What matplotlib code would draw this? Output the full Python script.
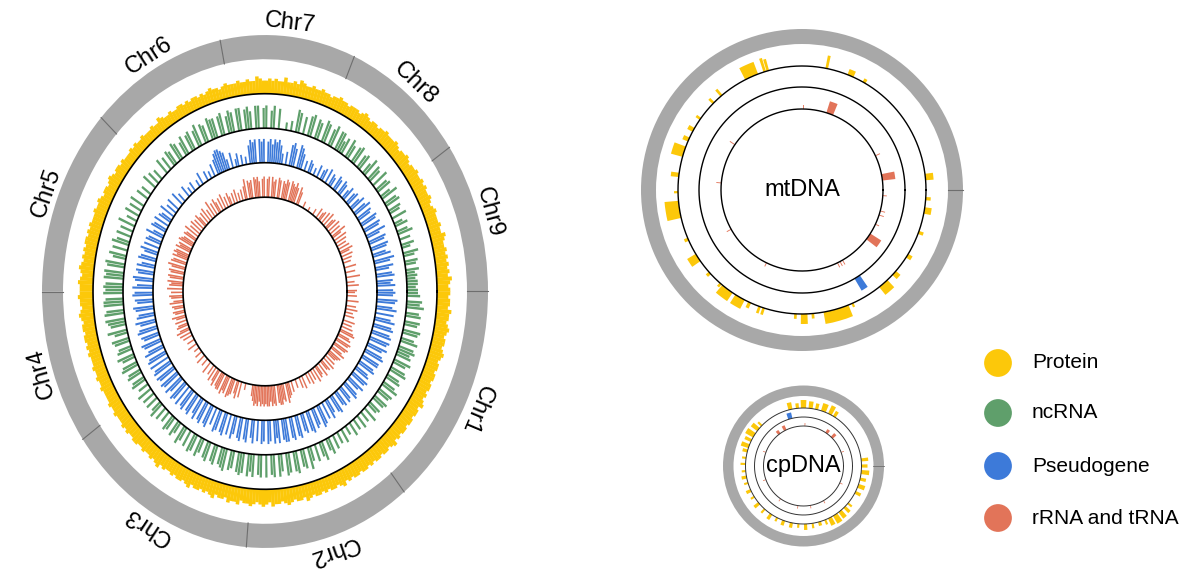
import numpy as np
import matplotlib.pyplot as plt

plt.rcParams['font.family'] = ['Liberation Sans', 'DejaVu Sans']

C_PROT = '#FCC80A'
C_NC = '#5F9F6B'
C_PSEUDO = '#3D7AD9'
C_RNA = '#E27459'
C_RING = '#A8A8A8'
C_SEP = '#6E6E6E'

# nuclear genome: chromosome sizes in degrees, clockwise from 3 o'clock
chroms = ['Chr1', 'Chr2', 'Chr3', 'Chr4', 'Chr5', 'Chr6', 'Chr7', 'Chr8', 'Chr9']
chrom_deg = [51.4, 43.4, 50.0, 35.2, 42.7, 35.7, 35.2, 32.2, 34.2]

# gene density per 1-degree bin (0-9), bin i = angle i..i+1 deg counter-clockwise from 3 o'clock
protein = [
    7,6,7,8,6,7,6,7,6,7, 6,7,6,6,7,8,6,6,7,6, 6,6,7,6,5,6,7,6,6,7, 6,7,6,6,7,6,6,5,6,7,
    6,6,5,6,7,6,6,6,7,6, 6,5,6,6,5,6,7,6,5,6, 6,6,5,6,6,7,6,6,5,6, 6,7,6,6,7,6,6,7,8,6,
    7,6,6,8,6,6,7,6,7,6, 6,7,8,6,6,7,6,6,7,6, 6,6,7,6,5,6,6,7,6,5, 6,5,6,6,5,6,5,6,6,5,
    5,6,5,5,6,7,5,5,6,5, 5,5,6,5,5,6,5,6,5,5, 5,6,5,6,6,5,6,7,6,5, 6,6,5,6,7,6,6,7,6,6,
    6,7,6,7,6,7,7,6,7,6, 7,6,7,8,7,6,7,8,7,7, 7,8,7,7,6,7,8,7,6,7, 7,6,7,7,6,7,6,7,6,6,
    6,7,6,6,7,6,6,7,6,6, 6,6,7,6,6,7,6,6,6,7, 6,7,6,6,7,7,6,6,7,6, 6,7,6,7,8,6,7,6,6,7,
    6,7,7,6,7,8,6,7,7,6, 7,6,7,8,6,7,7,6,8,7, 7,8,6,7,7,8,7,6,7,8, 7,6,8,7,7,6,7,8,7,6,
    7,7,6,8,7,6,7,7,6,7, 6,7,7,6,7,8,6,7,6,7, 7,6,7,7,6,7,6,7,7,6, 7,7,6,7,8,6,7,6,7,7,
    6,7,7,6,7,7,6,8,7,6, 7,6,7,7,6,7,7,6,7,7, 6,7,8,7,6,7,7,6,7,8, 7,6,7,7,8,6,7,7,6,7,
]
ncrna = [
    5,4,5,5,4,5,4,6,0,5, 6,0,5,7,0,4,6,0,5,0, 7,5,0,6,4,0,7,0,5,6, 0,7,6,0,8,5,0,7,6,0,
    8,0,6,7,0,8,5,0,7,6, 0,8,7,0,6,8,0,7,5,8, 8,0,9,7,0,8,9,0,7,8, 0,9,8,0,7,0,8,9,0,4,
    0,3,0,0,8,0,9,7,0,9, 8,0,9,9,0,7,9,8,0,9, 9,0,8,9,7,0,9,8,0,8, 8,9,0,7,8,0,9,7,0,8,
    7,0,8,6,0,7,8,0,6,7, 0,6,0,7,0,0,5,0,6,0, 7,0,0,5,0,6,0,0,7,0, 6,0,7,0,5,0,8,0,6,0,
    7,0,6,8,0,7,0,8,6,0, 9,8,0,9,8,9,0,8,9,8, 9,0,8,9,9,0,8,9,0,9, 8,7,0,9,6,0,8,7,0,6,
    7,0,8,6,0,7,8,0,6,7, 0,6,7,0,5,0,7,0,6,0, 6,0,5,7,0,6,0,5,0,7, 6,0,7,5,0,8,6,0,7,0,
    8,7,0,8,6,0,7,8,0,7, 8,0,7,8,9,0,8,7,0,8, 9,8,0,9,7,9,0,8,9,0, 9,0,8,9,0,9,7,0,9,8,
    0,8,9,0,7,8,0,9,6,0, 7,0,6,8,0,5,7,0,6,0, 5,0,6,0,4,0,6,0,5,0, 6,0,5,0,7,0,5,6,0,6,
    7,0,6,7,0,8,6,0,7,6, 0,8,7,0,6,8,0,7,6,8, 7,0,8,6,0,7,8,0,6,7, 0,7,6,0,8,6,7,0,6,5,
]
pseudo = [
    7,0,8,6,7,0,8,7,0,6, 8,0,7,9,0,8,6,0,7,8, 0,7,8,0,6,9,0,7,8,0, 7,8,0,6,7,0,8,6,0,7,
    5,0,6,5,0,6,4,0,5,6, 0,5,6,0,4,5,0,6,0,5, 4,0,5,0,3,0,4,5,0,4, 0,6,8,9,0,7,9,8,0,5,
    0,4,7,9,8,9,7,9,8,0, 9,8,9,0,9,8,9,7,0,3, 0,4,0,5,3,0,6,0,4,7, 8,9,9,8,6,0,5,0,3,0,
    4,0,0,5,0,3,0,0,4,0, 3,0,5,0,0,4,0,6,0,0, 6,0,5,0,7,0,5,6,0,7, 0,6,7,0,5,8,0,6,7,0,
    7,0,8,6,0,7,8,0,6,8, 0,8,7,0,9,8,0,7,9,0, 8,9,0,8,7,0,9,8,0,7, 8,0,9,7,0,8,9,0,8,7,
    0,9,8,0,7,9,0,8,9,0, 9,0,8,9,0,9,8,0,9,8, 0,9,7,0,9,8,0,9,0,8, 9,0,8,9,0,7,9,0,8,9,
    0,8,9,0,7,0,9,8,0,8, 9,0,8,0,9,7,0,8,9,0, 8,9,0,7,9,0,8,0,9,8, 0,9,8,0,9,7,9,0,8,9,
    9,0,8,9,0,8,9,0,7,8, 0,8,9,0,8,7,0,9,8,0, 7,0,8,6,0,7,8,0,6,7, 0,7,6,0,8,7,0,6,8,0,
    7,8,0,7,6,0,8,7,0,8, 8,0,9,8,0,7,9,0,8,9, 0,9,8,0,9,8,0,9,7,0, 8,0,9,7,0,8,9,0,7,8,
]
rrna = [
    5,0,0,6,0,4,0,0,7,0, 0,5,0,0,6,0,0,4,0,5, 0,6,0,5,7,0,6,0,5,0, 6,0,7,0,5,8,0,6,0,7,
    0,6,5,0,7,0,6,0,5,4, 0,5,0,0,3,0,0,0,2,0, 0,0,3,0,0,0,6,8,0,7, 9,7,8,9,0,8,9,7,8,0,
    8,9,0,8,7,9,0,9,8,0, 9,8,0,7,9,8,9,0,8,7, 8,0,9,6,0,5,0,4,0,6, 0,5,0,4,6,0,5,0,7,0,
    6,0,5,7,0,6,0,8,0,5, 0,7,0,6,0,5,7,0,6,0, 7,0,6,0,8,0,6,7,0,6, 7,8,0,7,6,8,0,7,8,6,
    8,0,7,8,0,9,7,0,8,7, 0,8,7,0,8,6,7,0,8,0, 6,0,7,6,0,5,7,0,6,5, 0,6,5,0,7,5,0,6,0,5,
    6,0,5,7,0,6,0,5,0,0, 4,0,0,5,0,0,3,0,0,4, 0,0,5,0,0,4,0,0,6,0, 0,5,0,7,0,6,8,0,7,8,
    8,0,9,7,8,0,9,8,7,0, 6,8,0,7,0,0,3,0,0,0, 0,5,7,9,8,9,7,9,8,9, 8,9,9,7,9,8,9,0,8,9,
    9,7,8,0,9,7,6,0,5,0, 0,4,0,0,5,0,6,0,0,5, 0,6,0,5,0,7,0,6,5,0, 7,0,5,6,0,7,0,6,0,5,
    6,7,0,8,6,0,7,8,0,7, 8,0,7,6,0,8,7,0,6,0, 5,0,6,0,0,5,0,4,0,6, 0,5,0,0,6,0,0,5,0,4,
]

# mitochondrial genome features: angle (deg), width (deg), height
mt_prot_ang = [6, 60, 67, 78.5, 106, 107.5, 114, 130.5, 135.5, 145,
               151, 156, 162, 173, 181, 189, 203.4, 213, 222, 229,
               233, 240, 245, 250, 252, 267, 271, 275, 286, 294,
               311, 318, 328, 340, 350.5, 356]
mt_prot_w = [3, 1.5, 3, 1.2, 1.2, 1.2, 6.5, 1.2, 1.2, 1.2,
             2, 2, 5, 2, 1, 8, 1.5, 4, 1.5, 1.2,
             6, 5, 1.5, 1.2, 1.2, 1.2, 3, 1.2, 12, 1,
             5, 2.5, 2, 1.5, 3, 1.5]
mt_prot_h = [8, 4, 6, 13, 12, 14, 13, 8, 6, 5,
             6, 6, 12, 8, 4, 14, 4, 10, 4, 4,
             10, 10, 6, 7, 7, 5, 10, 5, 12, 4,
             10, 6, 5, 5, 7, 5]
mt_pseudo_ang = [302.4]
mt_pseudo_w = [3.5]
mt_pseudo_h = [14]
mt_rna_ang = [70, 9, 325, 25, 89, 146, 175, 209, 244, 296, 298, 300, 335, 342, 345, 356]
mt_rna_w = [5, 4.6, 5, 0.6, 0.6, 0.6, 0.6, 0.6, 0.6, 0.6, 0.6, 0.6, 0.6, 0.6, 0.6, 0.6]
mt_rna_h = [12, 13, 13, 5, 4, 6, 5, 5, 4, 5, 5, 5, 4, 5, 5, 4]

# chloroplast genome features
cp_prot_ang = [0, 6, 58, 63, 70, 77, 83, 90, 96, 103,
               136, 141, 148, 154, 160, 165, 172, 178, 185, 191,
               197, 205, 212, 220, 228, 236, 243, 250, 258, 265,
               272, 279, 286, 292, 297, 303, 309, 315, 320, 333,
               340, 347, 354]
cp_prot_w = [3, 3, 3, 4, 5, 3, 4, 5, 3, 4,
             2, 4, 5, 3, 4, 3, 2, 2, 2, 3,
             2, 3, 2, 3, 2, 3, 2, 3, 3, 2,
             3, 2, 3, 2, 4, 5, 4, 3, 2, 3,
             4, 3, 4]
cp_prot_h = [6, 7, 6, 9, 8, 6, 7, 8, 5, 7,
             5, 8, 9, 7, 8, 5, 4, 5, 4, 5,
             4, 5, 4, 6, 5, 6, 4, 5, 5, 4,
             6, 5, 4, 5, 8, 9, 8, 7, 5, 6,
             7, 6, 8]
cp_pseudo_ang = [105.6]
cp_pseudo_w = [5]
cp_pseudo_h = [6]
cp_rna_ang = [45, 55, 117, 127, 20, 88, 160, 200, 235, 262, 280, 300, 335]
cp_rna_w = [4, 4, 4, 4, 1, 1, 1, 1, 1, 1, 1, 1, 1]
cp_rna_h = [5, 4, 5, 4, 3, 3, 3, 3, 3, 3, 3, 3, 3]

legend_labels = ['Protein', 'ncRNA', 'Pseudogene', 'rRNA and tRNA']
legend_colors = [C_PROT, C_NC, C_PSEUDO, C_RNA]

W, H = 1200, 573
fig = plt.figure(figsize=(12, 5.73), dpi=100, facecolor='white')


def polar_ax(cx, cy, rx, ry, rmax):
    ax = fig.add_axes([(cx - rx) / W, (H - cy - ry) / H, 2 * rx / W, 2 * ry / H],
                      projection='polar')
    ax.set_aspect('auto')
    ax.set_ylim(0, rmax)
    ax.set_axis_off()
    return ax


def circle(ax, r, lw=1.1, color='black'):
    t = np.linspace(0, 2 * np.pi, 720)
    ax.plot(t, np.full_like(t, r), color=color, lw=lw, zorder=5)


def density_track(ax, vals, base, scale, color, width):
    vals = np.array(vals, dtype=float)
    idx = np.nonzero(vals)[0]
    ax.bar(np.radians(idx + 0.5), vals[idx] * scale, width=np.radians(width),
           bottom=base, color=color, linewidth=0, zorder=2)


def feature_track(ax, ang, w, h, base, color):
    ax.bar(np.radians(ang), h, width=np.radians(w), bottom=base,
           color=color, linewidth=0, zorder=2)


# ---- nuclear genome ----
rmax = 245
k = 1.15
ax = polar_ax(265, 291.5, rmax, rmax * k, rmax)
bounds = -np.concatenate([[0], np.cumsum(chrom_deg)])
for i, name in enumerate(chroms):
    a0, a1 = bounds[i + 1], bounds[i]
    ax.bar(np.radians((a0 + a1) / 2), 21, width=np.radians(a1 - a0 + 0.05),
           bottom=202, color=C_RING, linewidth=0)
    ax.plot([np.radians(a0)] * 2, [202, 223], color=C_SEP, lw=0.8, zorder=3)
    th = np.radians((a0 + a1) / 2)
    rot = np.degrees(np.arctan2(-k * np.cos(th), np.sin(th)))
    ax.text(th, 235, name, rotation=rot, rotation_mode='anchor',
            ha='center', va='center', fontsize=17)

density_track(ax, protein, 172, 1.9, C_PROT, 1.08)
density_track(ax, ncrna, 142, 2.2, C_NC, 0.8)
density_track(ax, pseudo, 112, 2.3, C_PSEUDO, 0.8)
density_track(ax, rrna, 82, 2.0, C_RNA, 0.9)
for r in [172, 142, 112, 82]:
    circle(ax, r, lw=1.2)

# ---- mtDNA ----
ax = polar_ax(802, 190, 163, 163, 163)
ax.bar(0, 15, width=2 * np.pi, bottom=146, color=C_RING, linewidth=0)
ax.plot([0, 0], [146, 161], color=C_SEP, lw=0.8, zorder=3)
feature_track(ax, mt_prot_ang, mt_prot_w, mt_prot_h, 124, C_PROT)
feature_track(ax, mt_pseudo_ang, mt_pseudo_w, mt_pseudo_h, 103, C_PSEUDO)
feature_track(ax, mt_rna_ang, mt_rna_w, mt_rna_h, 81, C_RNA)
for r in [124, 103, 81]:
    circle(ax, r, lw=1.0)
ax.text(0, 0, 'mtDNA', ha='center', va='center', fontsize=17)

# ---- cpDNA ----
ax = polar_ax(803.5, 466, 82, 82, 82)
ax.bar(0, 10.5, width=2 * np.pi, bottom=70, color=C_RING, linewidth=0)
ax.plot([0, 0], [70, 80.5], color=C_SEP, lw=0.6, zorder=3)
feature_track(ax, cp_prot_ang, cp_prot_w, cp_prot_h, 58, C_PROT)
feature_track(ax, cp_pseudo_ang, cp_pseudo_w, cp_pseudo_h, 49, C_PSEUDO)
feature_track(ax, cp_rna_ang, cp_rna_w, cp_rna_h, 40, C_RNA)
for r in [58, 49, 40]:
    circle(ax, r, lw=0.7, color='#333333')
ax.text(0, 0, 'cpDNA', ha='center', va='center', fontsize=17, zorder=6)

# ---- legend ----
lax = fig.add_axes([0, 0, 1, 1])
lax.set_xlim(0, W)
lax.set_ylim(H, 0)
lax.set_axis_off()
ys = [363, 413, 466, 518]
lax.scatter([998] * 4, ys, s=400, c=legend_colors, linewidths=0)
for y, lab in zip(ys, legend_labels):
    lax.text(1032, y, lab, ha='left', va='center', fontsize=15)

fig.savefig('out.png', dpi=100, facecolor='white')
